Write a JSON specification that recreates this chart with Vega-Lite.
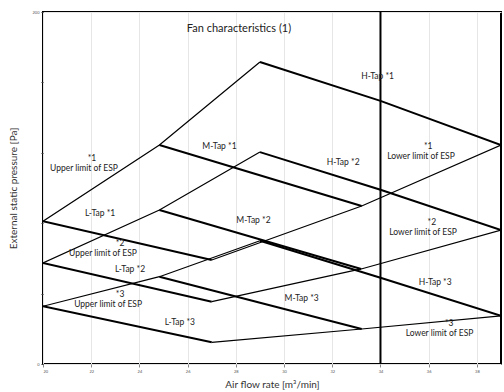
{
  "$schema": "https://vega.github.io/schema/vega-lite/v6.json",
  "width": 458,
  "height": 352,
  "autosize": "none",
  "padding": {"left": 43, "top": 12, "right": 3, "bottom": 28},
  "background": "white",
  "config": {
    "view": {"stroke": "#000000", "strokeWidth": 2},
    "font": "Lato",
    "axis": {"labelFont": "Lato", "titleFont": "Lato"}
  },
  "datasets": {
    "lines": [
      {"series": "Upper *1", "kind": "limit", "x": 20, "y": 81.1},
      {"series": "Upper *1", "kind": "limit", "x": 24.83, "y": 124.4},
      {"series": "Upper *1", "kind": "limit", "x": 29, "y": 171.6},
      {"series": "Lower *1", "kind": "limit", "x": 27, "y": 59.1},
      {"series": "Lower *1", "kind": "limit", "x": 33.22, "y": 89.8},
      {"series": "Lower *1", "kind": "limit", "x": 39, "y": 124.4},
      {"series": "L-Tap *1", "kind": "tap", "x": 20, "y": 81.1},
      {"series": "L-Tap *1", "kind": "tap", "x": 27, "y": 59.1},
      {"series": "M-Tap *1", "kind": "tap", "x": 24.83, "y": 124.4},
      {"series": "M-Tap *1", "kind": "tap", "x": 33.22, "y": 89.8},
      {"series": "H-Tap *1", "kind": "tap", "x": 29, "y": 171.6},
      {"series": "H-Tap *1", "kind": "tap", "x": 34, "y": 149.5},
      {"series": "H-Tap *1", "kind": "tap", "x": 39, "y": 124.4},
      {"series": "Upper *2", "kind": "limit", "x": 20, "y": 57.4},
      {"series": "Upper *2", "kind": "limit", "x": 24.83, "y": 87.5},
      {"series": "Upper *2", "kind": "limit", "x": 29, "y": 120.4},
      {"series": "Lower *2", "kind": "limit", "x": 27, "y": 35.4},
      {"series": "Lower *2", "kind": "limit", "x": 33.2, "y": 54},
      {"series": "Lower *2", "kind": "limit", "x": 39, "y": 76.1},
      {"series": "L-Tap *2", "kind": "tap", "x": 20, "y": 57.4},
      {"series": "L-Tap *2", "kind": "tap", "x": 27, "y": 35.4},
      {"series": "M-Tap *2", "kind": "tap", "x": 24.83, "y": 87.5},
      {"series": "M-Tap *2", "kind": "tap", "x": 33.2, "y": 54},
      {"series": "H-Tap *2", "kind": "tap", "x": 29, "y": 120.4},
      {"series": "H-Tap *2", "kind": "tap", "x": 34, "y": 99},
      {"series": "H-Tap *2", "kind": "tap", "x": 39, "y": 76.1},
      {"series": "Upper *3", "kind": "limit", "x": 20, "y": 32.8},
      {"series": "Upper *3", "kind": "limit", "x": 24.83, "y": 49.6},
      {"series": "Upper *3", "kind": "limit", "x": 29, "y": 70},
      {"series": "Lower *3", "kind": "limit", "x": 27, "y": 12.3},
      {"series": "Lower *3", "kind": "limit", "x": 33.22, "y": 19.9},
      {"series": "Lower *3", "kind": "limit", "x": 39, "y": 27.4},
      {"series": "L-Tap *3", "kind": "tap", "x": 20, "y": 32.8},
      {"series": "L-Tap *3", "kind": "tap", "x": 27, "y": 12.3},
      {"series": "M-Tap *3", "kind": "tap", "x": 24.83, "y": 49.6},
      {"series": "M-Tap *3", "kind": "tap", "x": 33.22, "y": 19.9},
      {"series": "H-Tap *3", "kind": "tap", "x": 29, "y": 70},
      {"series": "H-Tap *3", "kind": "tap", "x": 34, "y": 49},
      {"series": "H-Tap *3", "kind": "tap", "x": 39, "y": 27.4},
      {"series": "Limit 34", "kind": "tap", "x": 34, "y": 0},
      {"series": "Limit 34", "kind": "tap", "x": 34, "y": 200}
    ],
    "labels": [
      {"x": 22.03, "y": 117.0, "text": "*1"},
      {"x": 21.7, "y": 111.4, "text": "Upper limit of ESP"},
      {"x": 22.37, "y": 85.8, "text": "L-Tap *1"},
      {"x": 23.2, "y": 68.75, "text": "*2"},
      {"x": 22.49, "y": 63.1, "text": "Upper limit of ESP"},
      {"x": 23.61, "y": 54.0, "text": "L-Tap *2"},
      {"x": 23.2, "y": 39.8, "text": "*3"},
      {"x": 22.7, "y": 34.1, "text": "Upper limit of ESP"},
      {"x": 25.68, "y": 23.9, "text": "L-Tap *3"},
      {"x": 27.32, "y": 123.9, "text": "M-Tap *1"},
      {"x": 28.73, "y": 81.8, "text": "M-Tap *2"},
      {"x": 30.73, "y": 37.5, "text": "M-Tap *3"},
      {"x": 33.88, "y": 163.6, "text": "H-Tap *1"},
      {"x": 32.45, "y": 114.8, "text": "H-Tap *2"},
      {"x": 36.27, "y": 46.6, "text": "H-Tap *3"},
      {"x": 35.98, "y": 123.9, "text": "*1"},
      {"x": 35.68, "y": 118.2, "text": "Lower limit of ESP"},
      {"x": 36.13, "y": 80.7, "text": "*2"},
      {"x": 35.77, "y": 75.0, "text": "Lower limit of ESP"},
      {"x": 36.85, "y": 23.3, "text": "*3"},
      {"x": 36.45, "y": 17.6, "text": "Lower limit of ESP"}
    ],
    "title": [
      {"x": 28.13, "y": 190.3, "text": "Fan characteristics  (1)"}
    ]
  },
  "layer": [
    {
      "data": {"name": "lines"},
      "transform": [{"filter": "datum.kind == 'limit'"}],
      "mark": {"type": "line", "color": "#000000", "strokeWidth": 1.2, "clip": true},
      "encoding": {
        "x": {
          "field": "x", "type": "quantitative",
          "scale": {"domain": [20, 39], "nice": false, "zero": false},
          "axis": {
            "values": [20,21,22,23,24,25,26,27,28,29,30,31,32,33,34,35,36,37,38,39],
            "grid": true, "gridColor": "#e6e6e6", "gridWidth": 1,
            "domain": false, "tickSize": 3, "tickColor": "#888888",
            "labelFontSize": 4, "labelColor": "#555555", "labelPadding": 2,
            "title": "Air flow rate [m³/min]", "titleFontSize": 10,
            "titleFontWeight": "normal", "titleColor": "#333333", "titlePadding": 6
          }
        },
        "y": {
          "field": "y", "type": "quantitative",
          "scale": {"domain": [0, 200], "nice": false},
          "axis": {
            "values": [0,10,20,30,40,50,60,70,80,90,100,110,120,130,140,150,160,170,180,190,200],
            "grid": true, "gridColor": "#e6e6e6",
            "gridOpacity": {"condition": {"test": "datum.value % 50 === 0", "value": 1}, "value": 0},
            "labelExpr": "datum.value % 50 === 0 ? datum.label : ''",
            "domain": false, "tickSize": 2, "tickColor": "#333333",
            "labelFontSize": 4, "labelColor": "#555555", "labelPadding": 2,
            "title": "External static pressure [Pa]", "titleFontSize": 10,
            "titleFontWeight": "normal", "titleColor": "#333333", "titlePadding": 14
          }
        },
        "detail": {"field": "series"},
        "order": {"field": "x"}
      }
    },
    {
      "data": {"name": "lines"},
      "transform": [{"filter": "datum.kind == 'tap'"}],
      "mark": {"type": "line", "color": "#000000", "strokeWidth": 2, "clip": true},
      "encoding": {
        "x": {"field": "x", "type": "quantitative"},
        "y": {"field": "y", "type": "quantitative"},
        "detail": {"field": "series"},
        "order": {"field": "y"}
      }
    },
    {
      "data": {"name": "labels"},
      "mark": {"type": "text", "fontSize": 8.5, "color": "#222222", "align": "center", "baseline": "middle", "font": "Lato"},
      "encoding": {
        "x": {"field": "x", "type": "quantitative"},
        "y": {"field": "y", "type": "quantitative"},
        "text": {"field": "text"}
      }
    },
    {
      "data": {"name": "title"},
      "mark": {"type": "text", "fontSize": 11, "color": "#222222", "align": "center", "baseline": "middle", "font": "Lato"},
      "encoding": {
        "x": {"field": "x", "type": "quantitative"},
        "y": {"field": "y", "type": "quantitative"},
        "text": {"field": "text"}
      }
    }
  ]
}
